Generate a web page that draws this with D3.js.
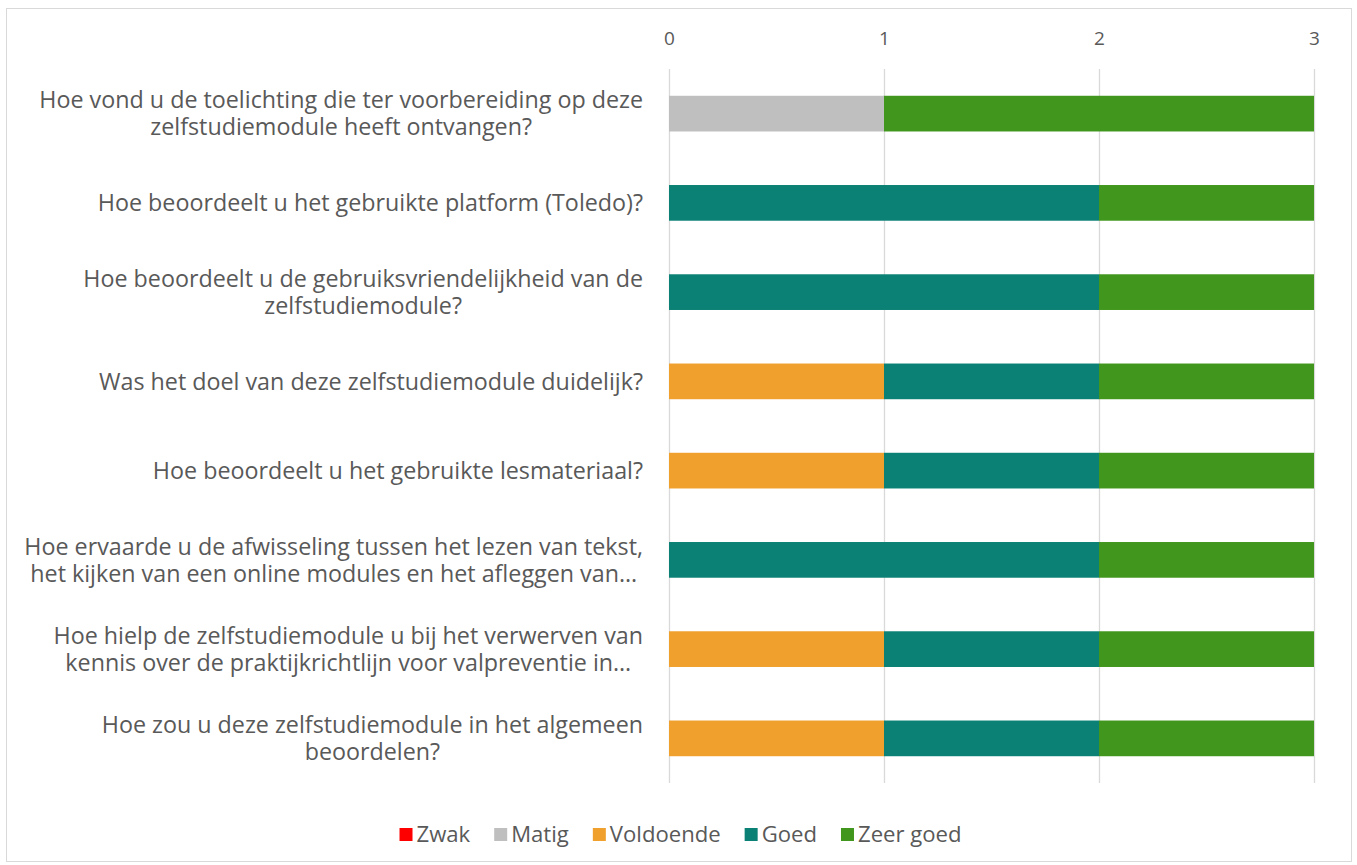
<!DOCTYPE html>
<html>
<head>
<meta charset="utf-8">
<script src="https://cdn.jsdelivr.net/npm/d3@7"></script>
<style>
  html, body { margin: 0; padding: 0; background: #fff; }
  svg { display: block; font-family: "Open Sans", Lato, sans-serif; }
</style>
</head>
<body>
<svg id="chart" width="1357" height="865"></svg>
<script>
// labels per question, already wrapped like the original
const questions = [
  ['Hoe vond u de toelichting die ter voorbereiding op deze', 'zelfstudiemodule heeft ontvangen?'],
  ['Hoe beoordeelt u het gebruikte platform (Toledo)?'],
  ['Hoe beoordeelt u de gebruiksvriendelijkheid van de', 'zelfstudiemodule?'],
  ['Was het doel van deze zelfstudiemodule duidelijk?'],
  ['Hoe beoordeelt u het gebruikte lesmateriaal?'],
  ['Hoe ervaarde u de afwisseling tussen het lezen van tekst,', 'het kijken van een online modules en het afleggen van…'],
  ['Hoe hielp de zelfstudiemodule u bij het verwerven van', 'kennis over de praktijkrichtlijn voor valpreventie in…'],
  ['Hoe zou u deze zelfstudiemodule in het algemeen', 'beoordelen?'],
];
const seriesNames = ['Zwak', 'Matig', 'Voldoende', 'Goed', 'Zeer goed'];
const seriesColors = ['#ff0000', '#bfbfbf', '#f0a02c', '#0b8074', '#41961e'];
const zwak      = [0, 0, 0, 0, 0, 0, 0, 0];
const matig     = [1, 0, 0, 0, 0, 0, 0, 0];
const voldoende = [0, 0, 0, 1, 1, 0, 1, 1];
const goed      = [0, 2, 2, 1, 1, 2, 1, 1];
const zeerGoed  = [2, 1, 1, 1, 1, 1, 1, 1];
const xTicks = [0, 1, 2, 3];

const rows = questions.map((q, i) => ({
  idx: i,
  Zwak: zwak[i], Matig: matig[i], Voldoende: voldoende[i], Goed: goed[i], 'Zeer goed': zeerGoed[i],
}));

const svg = d3.select('#chart');
const margin = { left: 669, right: 43, top: 69, bottom: 82 };
const W = 1357, H = 865;

// outer border
svg.append('rect')
  .attr('x', 6.5).attr('y', 8.5).attr('width', 1345).attr('height', 853)
  .attr('fill', '#fff').attr('stroke', '#d9d9d9');

const x = d3.scaleLinear().domain([0, 3]).range([margin.left, W - margin.right]);
const y = d3.scaleBand().domain(d3.range(questions.length))
  .range([margin.top, H - margin.bottom]).paddingInner(0.6).paddingOuter(0.3);

// grid lines
svg.append('g').selectAll('line').data(xTicks).join('line')
  .attr('x1', (d) => x(d) + 0.5).attr('x2', (d) => x(d) + 0.5)
  .attr('y1', margin.top).attr('y2', H - margin.bottom)
  .attr('stroke', '#d9d9d9').attr('stroke-width', 1.3);

// top axis
const axis = svg.append('g')
  .attr('transform', `translate(0,${margin.top - 24})`)
  .call(d3.axisTop(x).tickValues(xTicks).tickFormat(d3.format('d')).tickSize(0).tickPadding(0));
axis.select('.domain').remove();
axis.selectAll('text').attr('font-size', 19).attr('fill', '#595959')
  .attr('font-family', '"Open Sans", Lato, sans-serif');

// stacked bars
const stack = d3.stack().keys(seriesNames)(rows);
svg.append('g').selectAll('g').data(stack).join('g')
  .attr('fill', (d, i) => seriesColors[i])
  .selectAll('rect').data((d) => d.filter((s) => s[1] - s[0] > 0)).join('rect')
  .attr('x', (d) => x(d[0]))
  .attr('width', (d) => x(d[1]) - x(d[0]))
  .attr('y', (d) => y(d.data.idx))
  .attr('height', y.bandwidth());

// category labels: one text per question, lines as tspans,
// block right-aligned and lines centered inside the block
const labelRight = 643;
const lineH = 27;
const lab = svg.append('g').attr('font-size', 20).attr('fill', '#595959');
// scale font so the longest first line matches the original width (~604px)
const probe = lab.append('text').text(questions[0][0]);
const fs = 20 * 604 / probe.node().getComputedTextLength();
probe.remove();
lab.attr('font-size', fs);
questions.forEach((lines, i) => {
  const cy = y(i) + y.bandwidth() / 2;
  const t = lab.append('text').attr('text-anchor', 'middle');
  const spans = lines.map((ln, k) => t.append('tspan')
    .attr('y', cy + (k - (lines.length - 1) / 2) * lineH)
    .attr('dy', '0.35em')
    .text(ln));
  const maxW = d3.max(spans, (s) => s.node().getComputedTextLength());
  spans.forEach((s) => s.attr('x', labelRight - maxW / 2));
});

// legend
const legendY = 834;
const legend = svg.append('g');
let lx = 0;
seriesNames.forEach((name, i) => {
  const g = legend.append('g').attr('transform', `translate(${lx},0)`);
  g.append('rect').attr('x', 0).attr('y', legendY - 6).attr('width', 13).attr('height', 13)
    .attr('fill', seriesColors[i]);
  const t = g.append('text').attr('x', 17).attr('y', legendY).attr('dy', '0.35em')
    .attr('font-size', fs * 0.95).attr('fill', '#595959').text(name);
  lx += 17 + t.node().getComputedTextLength() + 24;
});
const lw = lx - 24;
legend.attr('transform', `translate(${(W - lw) / 2 + 2},0)`);
</script>
</body>
</html>
